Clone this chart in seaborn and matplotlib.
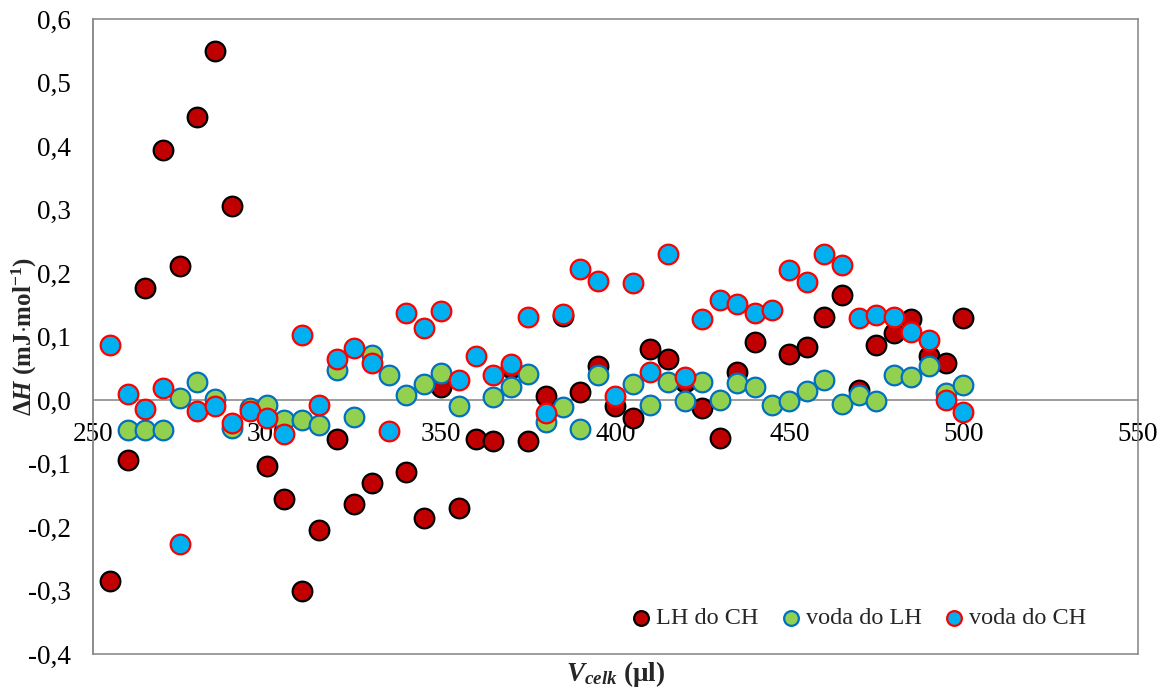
import numpy as np
import pandas as pd
import matplotlib
matplotlib.use("Agg")
import matplotlib.pyplot as plt
import seaborn as sns
from matplotlib.ticker import FuncFormatter, MultipleLocator

nan = np.nan
volume = list(range(255, 505, 5))

lh_do_ch = [-0.285, -0.094, 0.176, 0.393, 0.211, 0.446, 0.549, 0.306, nan, -0.104,
            -0.155, -0.300, -0.204, -0.062, -0.163, -0.131, nan, -0.113, -0.185, 0.020,
            -0.170, -0.061, -0.064, 0.050, -0.064, 0.007, 0.133, 0.013, 0.054, -0.010,
            -0.028, 0.081, 0.065, 0.029, -0.013, -0.059, 0.044, 0.092, nan, 0.072,
            0.084, 0.130, 0.166, 0.016, 0.086, 0.105, 0.128, 0.070, 0.059, 0.129]

voda_do_lh = [nan, -0.047, -0.047, -0.047, 0.004, 0.028, 0.002, -0.044, -0.013, -0.007,
              -0.031, -0.031, -0.039, 0.048, -0.026, 0.071, 0.040, 0.008, 0.026, 0.043,
              -0.009, nan, 0.005, 0.021, 0.041, -0.035, -0.011, -0.046, 0.040, nan,
              0.026, -0.007, 0.028, -0.001, 0.028, 0.000, 0.027, 0.020, -0.008, -0.001,
              0.015, 0.032, -0.006, 0.008, -0.001, 0.039, 0.036, 0.053, 0.011, 0.024]

voda_do_ch = [0.087, 0.010, -0.014, 0.019, -0.226, -0.017, -0.010, -0.036, -0.018, -0.029,
              -0.054, 0.102, -0.008, 0.065, 0.082, 0.059, -0.049, 0.137, 0.114, 0.141,
              0.032, 0.069, 0.039, 0.057, 0.131, -0.020, 0.136, 0.207, 0.188, 0.006,
              0.185, 0.044, 0.230, 0.037, 0.128, 0.157, 0.151, 0.137, 0.142, 0.204,
              0.186, 0.230, 0.213, 0.129, 0.134, 0.130, 0.107, 0.094, 0.000, -0.019]

series_names = ["LH do CH", "voda do LH", "voda do CH"]
x_ticks = [250, 300, 350, 400, 450, 500, 550]

sns.set_theme(style="white")
plt.rcParams["font.family"] = ["Liberation Serif", "DejaVu Serif"]
plt.rcParams["mathtext.fontset"] = "custom"
plt.rcParams["mathtext.rm"] = "Liberation Serif"
plt.rcParams["mathtext.it"] = "Liberation Serif:italic"
plt.rcParams["mathtext.bf"] = "Liberation Serif:bold"
plt.rcParams["mathtext.bfit"] = "Liberation Serif:italic:bold"

fig = plt.figure(figsize=(11.62, 6.90), dpi=100)
ax = fig.add_axes([0.080, 0.052, 0.899, 0.9205])

styles = [
    dict(color="#C00000", edgecolor="#000000"),
    dict(color="#92D050", edgecolor="#0070C0"),
    dict(color="#00B0F0", edgecolor="#FF0000"),
]
for name, vals, st in zip(series_names, [lh_do_ch, voda_do_lh, voda_do_ch], styles):
    df = pd.DataFrame({"x": volume, "y": vals}).dropna()
    sns.scatterplot(data=df, x="x", y="y", ax=ax, s=200, color=st["color"],
                    edgecolor=st["edgecolor"], linewidth=1.6, label=name, zorder=3)

ax.set_xlim(250, 550)
ax.set_ylim(-0.4, 0.6)
ax.yaxis.set_major_locator(MultipleLocator(0.1))
ax.set_xticks(x_ticks)
ax.yaxis.set_major_formatter(FuncFormatter(lambda v, p: f"{v:.1f}".replace(".", ",")))

spine_col = "#8C8C8C"
for sp in ax.spines.values():
    sp.set_color(spine_col)
    sp.set_linewidth(1.2)
ax.spines["bottom"].set_position(("data", 0))
ax.plot([0, 1], [0, 0], transform=ax.transAxes, color=spine_col, lw=1.2, clip_on=False)
ax.plot([0, 0], [0, 1], transform=ax.transAxes, color=spine_col, lw=1.2, clip_on=False)

ax.tick_params(axis="both", which="both", direction="out", colors=spine_col,
               labelcolor="black", labelsize=19.5, width=1.0)
ax.tick_params(axis="y", length=6, pad=10)
ax.tick_params(axis="x", length=5, pad=11)

ax.set_xlabel(r"$\mathbfit{V}_{\mathbfit{celk}}$ $\mathbf{(\mu l)}$", fontsize=19.5, labelpad=0)
ax.xaxis.set_label_coords(0.5, -0.008)
ax.set_ylabel(r"$\mathbf{\Delta}\mathbfit{H}$ $\mathbf{(mJ{\cdot}mol^{-1})}$", fontsize=18)
ax.yaxis.set_label_coords(-0.052, 0.5)

ax.legend(loc="lower right", bbox_to_anchor=(0.967, 0.012), ncol=3, frameon=False,
          fontsize=17.5, handlelength=0.7, handletextpad=0.25, columnspacing=1.0,
          markerscale=0.75, borderaxespad=0.3)

fig.savefig("out.png", dpi=100)
